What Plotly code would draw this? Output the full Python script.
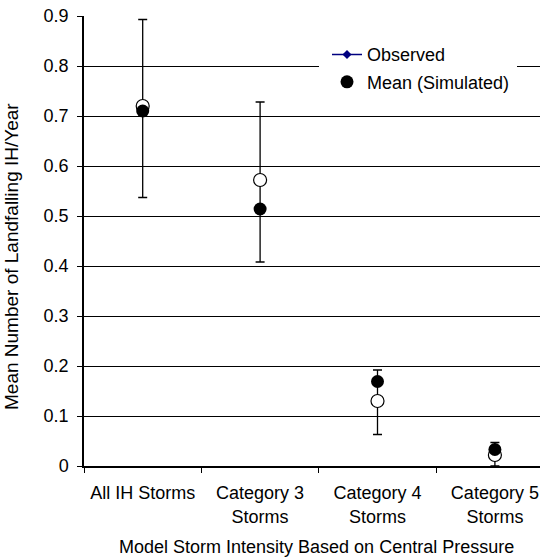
import plotly.graph_objects as go

# Storm intensity classes along the x axis
categories = ["All IH Storms", "Category 3<br>Storms", "Category 4<br>Storms", "Category 5<br>Storms"]

# Mean number of landfalling intense hurricanes per year
observed = [0.72, 0.572, 0.13, 0.022]
simulated = [0.71, 0.514, 0.169, 0.033]

# Range of the simulated means (lower / upper whisker ends)
sim_low = [0.537, 0.408, 0.063, 0.0]
sim_high = [0.893, 0.728, 0.192, 0.047]

err_plus = [h - m for h, m in zip(sim_high, simulated)]
err_minus = [m - l for m, l in zip(simulated, sim_low)]

FONT = "Liberation Sans, Arial, sans-serif"

fig = go.Figure()

# whiskers for the simulated means
fig.add_trace(go.Scatter(
    x=categories, y=simulated, mode="markers",
    marker=dict(size=1, color="rgba(0,0,0,0)"),
    error_y=dict(type="data", symmetric=False, array=err_plus, arrayminus=err_minus,
                 color="black", thickness=1.3, width=4.5),
    showlegend=False, hoverinfo="skip",
))

# observed values as open circles
fig.add_trace(go.Scatter(
    x=categories, y=observed, mode="markers", name="Observed",
    marker=dict(symbol="circle", size=13, color="white", line=dict(color="black", width=1.2)),
    showlegend=False,
))

# simulated means as filled circles
fig.add_trace(go.Scatter(
    x=categories, y=simulated, mode="markers", name="Mean (Simulated)",
    marker=dict(symbol="circle", size=13, color="black"),
    showlegend=False,
))

# legend entries
fig.add_trace(go.Scatter(
    x=[None], y=[None], mode="lines+markers", name="Observed",
    line=dict(color="#000080", width=1.5),
    marker=dict(symbol="diamond", size=7, color="#000080"),
    legendgroup="obs",
))
fig.add_trace(go.Scatter(
    x=[None], y=[None], mode="markers", name="Mean (Simulated)",
    marker=dict(symbol="circle", size=13, color="black"),
    legendgroup="sim",
))

fig.update_layout(
    width=540, height=559,
    margin=dict(l=84, r=0, t=16, b=93),
    paper_bgcolor="white", plot_bgcolor="white",
    font=dict(family=FONT, size=16, color="black"),
    legend=dict(
        x=(327 - 84) / 456, y=0.955, xanchor="left", yanchor="top",
        bgcolor="white", borderwidth=0,
        font=dict(family=FONT, size=18, color="black"),
        tracegroupgap=1,
    ),
    # white panel behind the legend entries
    shapes=[dict(
        type="rect", xref="paper", yref="paper", layer="above",
        x0=(319 - 84) / 456, x1=(517 - 84) / 456,
        y0=(466 - 98) / 450, y1=(466 - 40) / 450,
        fillcolor="white", line=dict(width=0),
    )],
    xaxis=dict(
        type="category", range=[-0.5, -0.5 + 456 / 117.4],
        tickson="boundaries", ticks="outside", ticklen=5, tickcolor="black", tickwidth=1,
        showline=True, linecolor="black", linewidth=1.5,
        showgrid=False, zeroline=False,
        ticklabelstandoff=10,
        tickfont=dict(family=FONT, size=18, color="black"),
    ),
    yaxis=dict(
        range=[0, 0.9], dtick=0.1, tick0=0,
        ticks="outside", ticklen=5, tickcolor="black", tickwidth=1,
        showline=True, linecolor="black", linewidth=1.5,
        showgrid=True, gridcolor="black", gridwidth=1,
        zeroline=False,
        ticklabelstandoff=5,
        tickfont=dict(family=FONT, size=18, color="black"),
    ),
    annotations=[
        dict(
            text="Model Storm Intensity Based on Central Pressure",
            xref="paper", yref="paper", x=(316 - 84) / 456, y=-(547 - 466) / 450,
            xanchor="center", yanchor="middle", showarrow=False,
            font=dict(family=FONT, size=18, color="black"),
        ),
        dict(
            text="Mean Number of Landfalling IH/Year",
            xref="paper", yref="paper", x=(11 - 84) / 456, y=(466 - 257) / 450,
            xanchor="center", yanchor="middle", textangle=-90, showarrow=False,
            font=dict(family=FONT, size=19, color="black"),
        ),
    ],
)

fig.write_html("out.html")
